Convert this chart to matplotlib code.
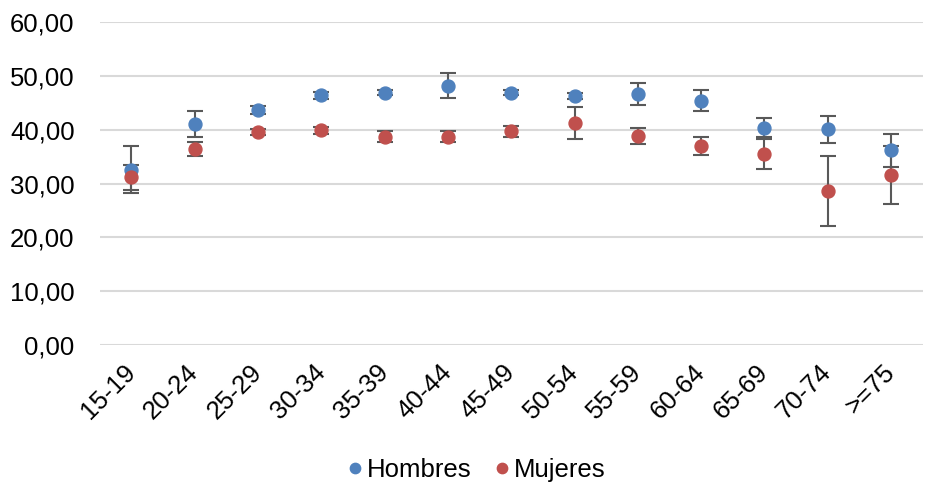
import numpy as np
import matplotlib
matplotlib.use("Agg")
import matplotlib.pyplot as plt
from matplotlib.ticker import FuncFormatter

plt.rcParams["font.family"] = ["Liberation Sans", "DejaVu Sans"]

# data
grupos = ["15-19", "20-24", "25-29", "30-34", "35-39", "40-44", "45-49",
          "50-54", "55-59", "60-64", "65-69", "70-74", ">=75"]
hombres = [32.6, 41.0, 43.7, 46.4, 46.9, 48.2, 46.9, 46.3, 46.6, 45.4, 40.4, 40.1, 36.2]
hombres_err = [4.3, 2.4, 0.7, 0.7, 0.5, 2.3, 0.5, 0.5, 2.0, 2.0, 1.8, 2.5, 3.1]
mujeres = [31.2, 36.5, 39.6, 39.9, 38.7, 38.7, 39.7, 41.3, 38.8, 37.0, 35.5, 28.6, 31.6]
mujeres_err = [2.3, 1.3, 0.6, 0.6, 1.05, 1.0, 1.0, 3.0, 1.5, 1.75, 2.8, 6.5, 5.3]

fig = plt.figure(figsize=(9.32, 4.91), dpi=100)
ax = fig.add_axes([0.107, 0.297, 0.883, 0.658])

x = np.arange(len(grupos))
err_kw = dict(fmt="none", ecolor="#595959", elinewidth=1.5, capsize=5.5, capthick=1.5, zorder=2)
ax.errorbar(x, hombres, yerr=hombres_err, **err_kw)
ax.errorbar(x, mujeres, yerr=mujeres_err, **err_kw)
ax.plot(x, hombres, "o", color="#4F81BD", markersize=9.3, zorder=3, label="Hombres")
ax.plot(x, mujeres, "o", color="#C0504D", markersize=9.3, zorder=4, label="Mujeres")

ax.set_xlim(-0.5, len(grupos) - 0.5)
ax.set_ylim(0, 60)
ax.set_yticks(np.arange(0, 61, 10))
ax.yaxis.set_major_formatter(FuncFormatter(lambda v, p: "{:.2f}".format(v).replace(".", ",")))
ax.set_xticks(x)
ax.set_xticklabels(grupos, rotation=45, ha="right", va="center", rotation_mode="anchor")
ax.tick_params(axis="both", length=0, labelsize=18.5, colors="#000000")
ax.tick_params(axis="y", pad=18)
ax.tick_params(axis="x", pad=17)
ax.grid(axis="y", color="#D9D9D9", linewidth=1.5)
ax.set_axisbelow(True)
for s in ax.spines.values():
    s.set_visible(False)

fig.legend(loc="center", bbox_to_anchor=(0.511, 0.043), ncol=2, frameon=False,
           fontsize=18.5, handlelength=0.6, handletextpad=0.15, columnspacing=0.9,
           markerscale=0.8, borderpad=0)

fig.savefig("out.png", dpi=100)
